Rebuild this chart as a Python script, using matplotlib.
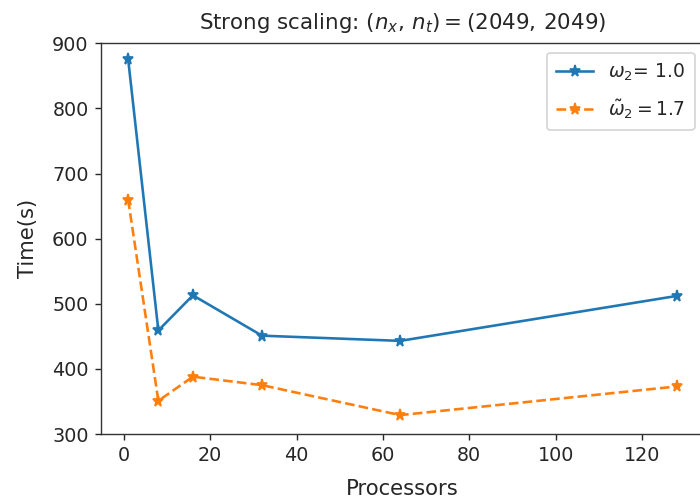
import matplotlib
matplotlib.use("Agg")
import matplotlib.pyplot as plt

processors = [1, 8, 16, 32, 64, 128]
time_w1 = [876, 459, 513, 451, 443, 512]
time_w17 = [660, 351, 388, 375, 329, 373]
label_w1 = r"$\omega_2$= 1.0"
label_w17 = r"$\tilde{\omega}_2 = 1.7$"
title = r"Strong scaling: $(n_x,\, n_t) = (2049,\, 2049)$"

txt = "#262626"
plt.rcParams.update({
    "text.color": txt,
    "axes.labelcolor": txt,
    "xtick.color": txt,
    "ytick.color": txt,
    "axes.edgecolor": "#333333",
})

dpi = 125
fig = plt.figure(figsize=(700 / dpi, 501 / dpi), dpi=dpi)
W, H = 700, 501
left, right, top, bottom = 100.7, 704, 43.3, 434
ax = fig.add_axes([left / W, 1 - bottom / H, (right - left) / W, (bottom - top) / H])

ax.plot(processors, time_w1, "-*", color="#1f77b4", label=label_w1, markersize=6.5)
ax.plot(processors, time_w17, "--*", color="#ff7f0e", label=label_w17, markersize=6.5)
ax.set_ylim(300, 900)
ax.set_xticks([0, 20, 40, 60, 80, 100, 120])
ax.tick_params(labelsize=11)
ax.set_xlabel("Processors", fontsize=12.2, labelpad=8)
ax.set_ylabel("Time(s)", fontsize=12.2, labelpad=8)
ax.set_title(title, fontsize=12.3, pad=8)
ax.legend(loc="upper right", fontsize=10.8, labelspacing=0.75, borderpad=0.5)

fig.savefig("out.png", dpi=dpi)
